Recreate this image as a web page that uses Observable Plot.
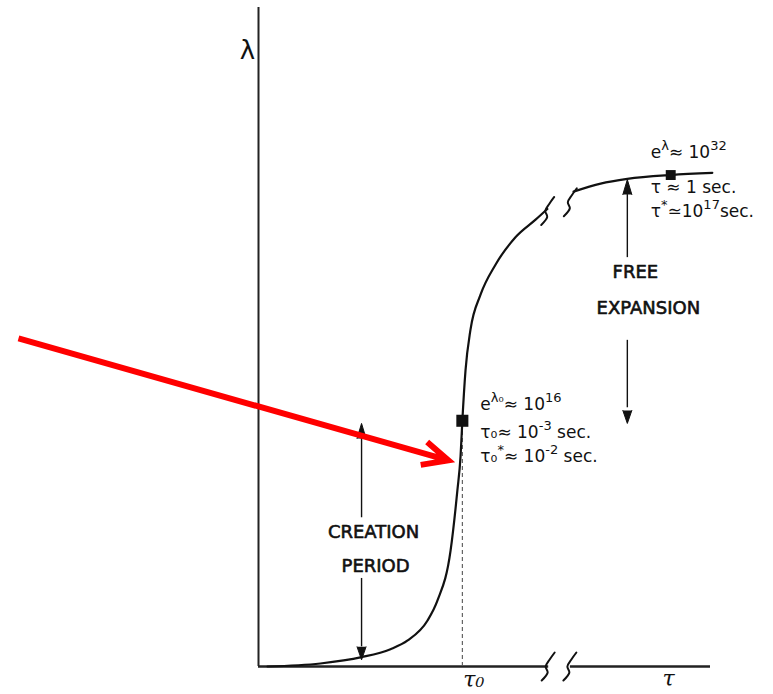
<!DOCTYPE html>
<html>
<head>
<meta charset="utf-8">
<script src="https://cdn.jsdelivr.net/npm/d3@7"></script>
<script src="https://cdn.jsdelivr.net/npm/@observablehq/plot@0.6"></script>
<style>
  html, body { margin: 0; padding: 0; background: #fff; }
  #chart svg { display: block; }
</style>
</head>
<body>
<div id="chart"></div>
<script>
// λ as a function of τ: a creation period up to τ0, then free expansion.
const lambda0 = Math.log(1e16);   // e^λ0 ≈ 10^16
const lambda1 = Math.log(1e32);   // e^λ  ≈ 10^32
const tau0 = 45.1;                // τ0 on the (broken) time axis
const tau1 = 91.2;                // τ ≈ 1 sec.

// Curve before the break in the τ axis
const tauEarly = [2, 13.7, 22.8, 29.2, 33.0, 37.4, 39.6, 42.5, 44.0, 44.7, tau0, 45.8, 46.9, 49.1, 52.4, 56.9, 61.3, 63.9];
const lamEarly = [0, 0.45, 1.4, 2.6, 3.9, 6.9, 9.9, 17.4, 26.4, 31.5, lambda0, 44.4, 50.5, 55.7, 60.2, 64.4, 67.0, 68.6];
// Curve after the break
const tauLate = [69.7, 75.7, 81.6, tau1, 100.4];
const lamLate = [71.2, 72.4, 73.1, lambda1, 74.0];

// Annotation text (^{...} marks a superscript)
const notesAtTau0 = ["e^{λ₀}≈ 10^{16}", "τ₀≈ 10^{-3} sec.", "τ₀^{*}≈ 10^{-2} sec."];
const notesAtTau1 = ["e^{λ}≈ 10^{32}", "τ ≈ 1 sec.", "τ^{*}≃10^{17}sec."];
const creationLabel = ["CREATION", "PERIOD"];
const expansionLabel = ["FREE", "EXPANSION"];
const creationX = 22.8;
const expansionX = 81.6;

const early = tauEarly.map((t, i) => ({t, l: lamEarly[i]}));
const late = tauLate.map((t, i) => ({t, l: lamLate[i]}));

// scales: 100 τ-units across the axis, λ in natural-log units
const X = {domain: [0, 100], range: [258, 710]};
const Y = {domain: [0, 100], range: [666, -1]};
const pxX = (X.range[1] - X.range[0]) / 100;
const pxY = (Y.range[0] - Y.range[1]) / 100;

// hand-drawn "break" mark, offsets in pixels around a centre point
const kink = [[-7, 14], [-1, 6], [-3, 0], [1, -7], [6, -14]];
const squiggle = (t, l, id) => kink.map(([dx, dy]) => ({t: t + dx / pxX, l: l - dy / pxY, id}));
const breaks = [
  ...squiggle(64.2, 0, "a1"), ...squiggle(69.0, 0, "a2"),
  ...squiggle(64.1, 68.3, "c1"), ...squiggle(69.1, 69.6, "c2")
];

const ink = "#111";
const font = "DejaVu Sans";
const greek = "DejaVu Serif";

function noteLines(lines, x, y, dx, dys) {
  return lines.map((s, i) => Plot.text([s], {
    x: () => x, y: () => y, text: d => d, dx, dy: dys[i],
    textAnchor: "start", lineAnchor: "bottom",
    fontSize: 17, fontFamily: font, fill: ink, letterSpacing: 1.1
  }));
}

function bigLabel(s, x, y, dx) {
  return Plot.text([s], {
    x: () => x, y: () => y, text: d => d, dx,
    textAnchor: "middle", lineAnchor: "bottom",
    fontSize: 18, fontFamily: font, letterSpacing: 2.4,
    fill: ink, stroke: ink, strokeWidth: 0.6
  });
}

function arrowHead(x, y, up) {
  return Plot.vector([0], {
    x: () => x, y: () => y, shape: "spike", anchor: "end",
    length: up ? 15 : 13, r: 4.5, rotate: up ? 0 : 180,
    fill: ink, stroke: ink, strokeWidth: 1
  });
}

const chart = Plot.plot({
  width: 773,
  height: 694,
  x: {...X, axis: null},
  y: {...Y, axis: null},
  style: {background: "#fff", fontFamily: font},
  marks: [
    // axes
    Plot.ruleX([0], {y1: 0, y2: 98.8, stroke: "#222", strokeWidth: 2}),
    Plot.ruleY([0], {x1: 0, x2: 64.2, stroke: "#222", strokeWidth: 2.4}),
    Plot.ruleY([0], {x1: 69.0, x2: 100, stroke: "#222", strokeWidth: 2.4}),
    Plot.line(breaks, {x: "t", y: "l", z: "id", curve: "catmull-rom", stroke: ink, strokeWidth: 2}),
    // τ0 guide
    Plot.ruleX([tau0], {y1: 0, y2: lambda0 - 1, stroke: "#555", strokeWidth: 1.1, strokeDasharray: "4,3"}),
    // λ(τ)
    Plot.line(early, {x: "t", y: "l", curve: "monotone-x", stroke: ink, strokeWidth: 2.2}),
    Plot.line(late, {x: "t", y: "l", curve: "monotone-x", stroke: ink, strokeWidth: 2.2}),
    Plot.dot([0], {x: () => tau0, y: () => lambda0, symbol: "square", r: 6.8, fill: ink, stroke: "none"}),
    Plot.dot([0], {x: () => tau1, y: () => lambda1, symbol: "square", r: 5.6, fill: ink, stroke: "none"}),
    // creation period: 0 → λ0
    Plot.ruleX([creationX], {y1: lambda0 - 15 / pxY, y2: 22.3, stroke: ink, strokeWidth: 1.4}),
    Plot.ruleX([creationX], {y1: 13.2, y2: 1 + 13 / pxY, stroke: ink, strokeWidth: 1.4}),
    arrowHead(creationX, lambda0 - 0.4, true),
    arrowHead(creationX, 1, false),
    bigLabel(creationLabel[0], creationX, 19.2, 12),
    bigLabel(creationLabel[1], creationX, 14.2, 14),
    // free expansion: λ0 → λ
    Plot.ruleX([expansionX], {y1: 73.0 - 15 / pxY, y2: 61.3, stroke: ink, strokeWidth: 1.4}),
    Plot.ruleX([expansionX], {y1: 48.9, y2: lambda0 + 13 / pxY, stroke: ink, strokeWidth: 1.4}),
    arrowHead(expansionX, 73.0, true),
    arrowHead(expansionX, lambda0 - 0.4, false),
    bigLabel(expansionLabel[0], expansionX, 58.2, 8),
    bigLabel(expansionLabel[1], expansionX, 52.9, 21),
    // annotations
    ...noteLines(notesAtTau0, tau0, lambda0, 18, [-11, 17, 41]),
    ...noteLines(notesAtTau1, tau1, lambda1, -20, [-17, 18, 42]),
    // axis names
    Plot.text(["λ"], {x: () => 0, y: () => 92.4, text: d => d, dx: -11, fontSize: 26, fontFamily: font, fill: ink}),
    Plot.text(["τ₀"], {x: () => tau0, y: () => 0, text: d => d, dx: 1, dy: 5, textAnchor: "start", lineAnchor: "top", fontSize: 22, fontFamily: greek, fontStyle: "italic", fill: ink}),
    Plot.text(["τ"], {x: () => 90.7, y: () => 0, text: d => d, dy: 4, lineAnchor: "top", fontSize: 22, fontFamily: greek, fontStyle: "italic", fill: ink}),
    // pointer
    Plot.arrow([0], {
      x1: () => -53.1, y1: () => 49.2, x2: () => 42.0, y2: () => 30.9,
      stroke: "#ff0000", strokeWidth: 6, headAngle: 50, headLength: 7,
      strokeLinecap: "butt", strokeLinejoin: "miter", strokeMiterlimit: 10
    })
  ]
});

// turn ^{...} into raised tspans
function applySuperscripts(svg) {
  const NS = "http://www.w3.org/2000/svg";
  for (const t of svg.querySelectorAll("text")) {
    const s = t.textContent;
    if (!s.includes("^{")) continue;
    t.textContent = "";
    let raised = false;
    for (const part of s.split(/(\^\{[^}]*\})/)) {
      if (!part) continue;
      const span = document.createElementNS(NS, "tspan");
      if (part.startsWith("^{")) {
        span.textContent = part.slice(2, -1);
        span.setAttribute("font-size", "13");
        span.setAttribute("dy", "-8");
        raised = true;
      } else {
        span.textContent = part;
        if (raised) span.setAttribute("dy", "8");
        raised = false;
      }
      t.appendChild(span);
    }
  }
}
applySuperscripts(chart);
document.getElementById("chart").appendChild(chart);
</script>
</body>
</html>
